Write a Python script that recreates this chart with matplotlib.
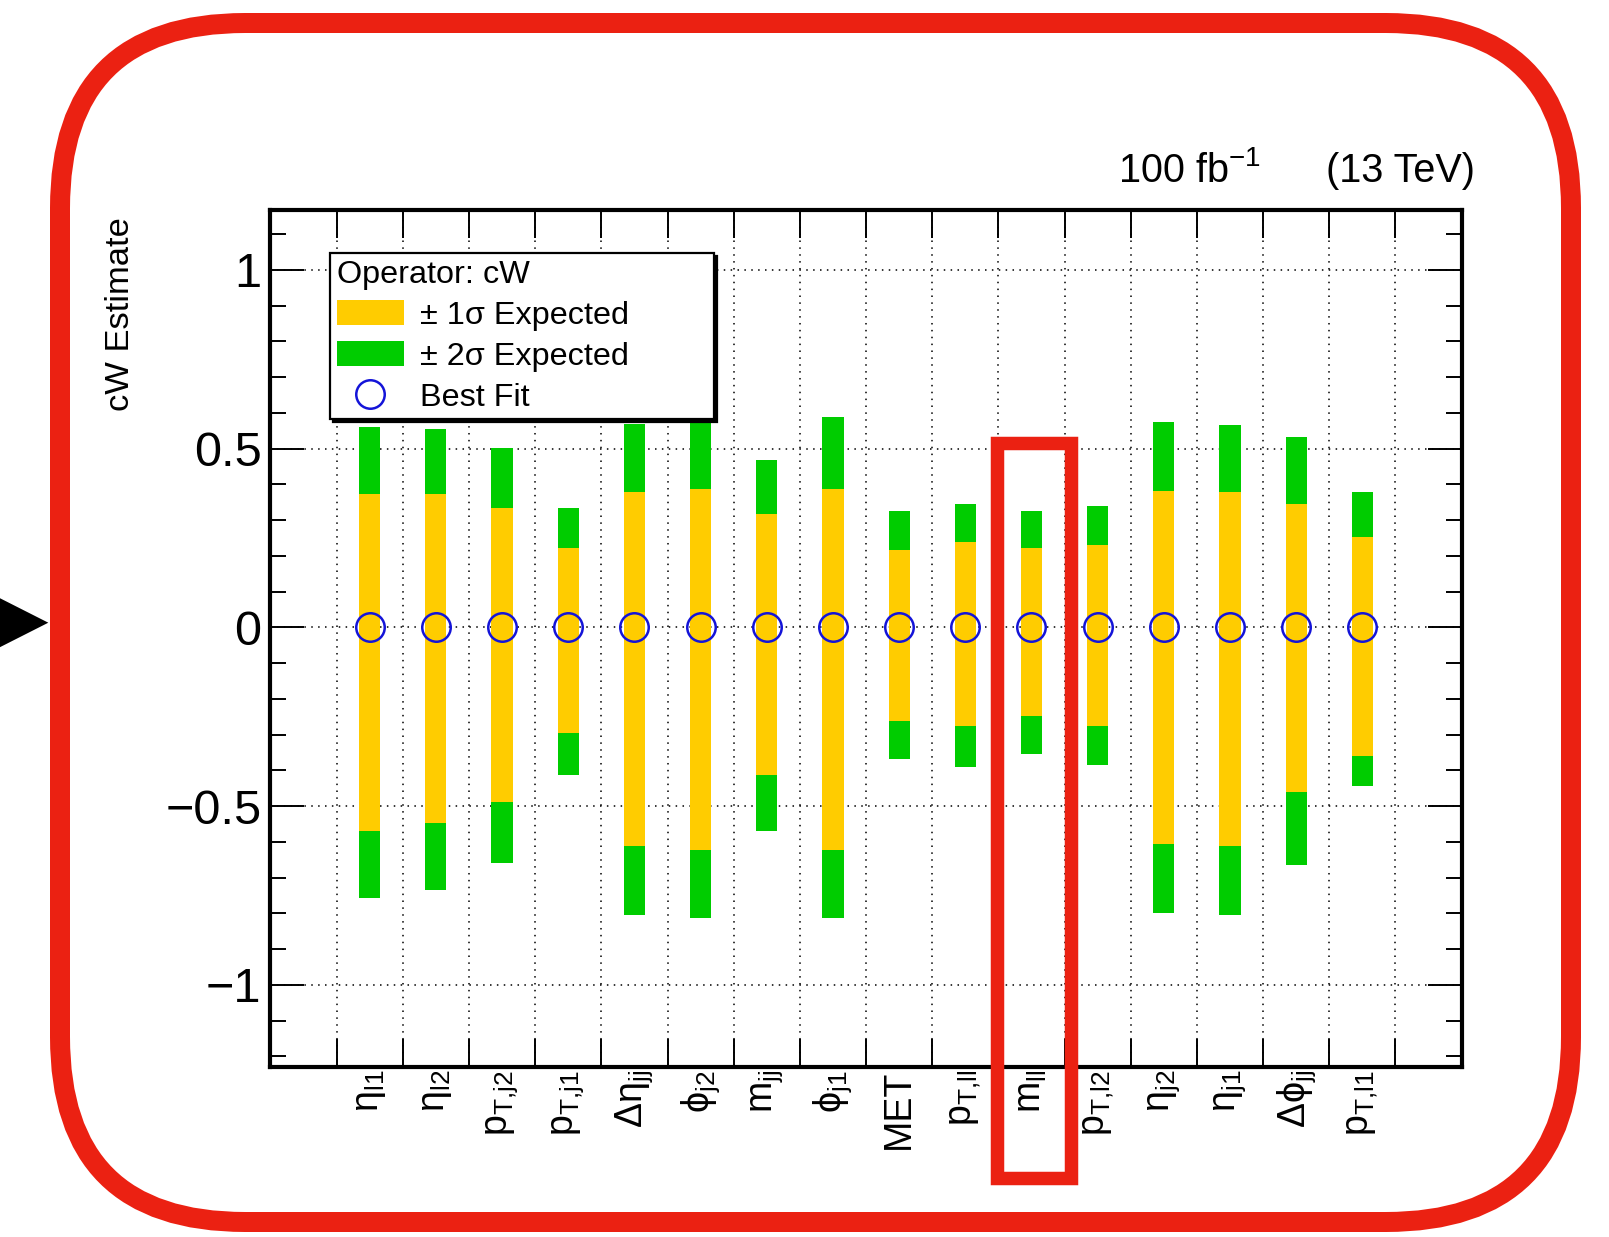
import matplotlib

matplotlib.use("Agg")

import matplotlib.pyplot as plt
import numpy as np
from matplotlib.lines import Line2D
from matplotlib.patches import FancyBboxPatch, Patch, Polygon, Rectangle
from matplotlib.ticker import FixedLocator, MultipleLocator


OBSERVABLES = [
    r"$\mathregular{\eta_{l1}}$",
    r"$\mathregular{\eta_{l2}}$",
    r"$\mathregular{p_{T{,}j2}}$",
    r"$\mathregular{p_{T{,}j1}}$",
    r"$\mathregular{\Delta\eta_{jj}}$",
    r"$\mathregular{\phi_{j2}}$",
    r"$\mathregular{m_{jj}}$",
    r"$\mathregular{\phi_{j1}}$",
    "MET",
    r"$\mathregular{p_{T{,}ll}}$",
    r"$\mathregular{m_{ll}}$",
    r"$\mathregular{p_{T{,}l2}}$",
    r"$\mathregular{\eta_{j2}}$",
    r"$\mathregular{\eta_{j1}}$",
    r"$\mathregular{\Delta\phi_{jj}}$",
    r"$\mathregular{p_{T{,}l1}}$",
]

BEST_FIT = [0.0, 0.0, 0.0, 0.0, 0.0, 0.0, 0.0, 0.0,
            0.0, 0.0, 0.0, 0.0, 0.0, 0.0, 0.0, 0.0]

SIGMA2_UP = [0.561, 0.554, 0.501, 0.334, 0.570, 0.585, 0.469, 0.588,
             0.325, 0.346, 0.325, 0.340, 0.576, 0.566, 0.534, 0.378]
SIGMA1_UP = [0.373, 0.373, 0.334, 0.222, 0.378, 0.388, 0.318, 0.388,
             0.216, 0.238, 0.221, 0.232, 0.383, 0.378, 0.346, 0.254]
SIGMA1_DOWN = [-0.568, -0.547, -0.488, -0.294, -0.612, -0.622, -0.412, -0.622,
               -0.262, -0.277, -0.247, -0.277, -0.605, -0.612, -0.460, -0.359]
SIGMA2_DOWN = [-0.756, -0.735, -0.660, -0.412, -0.804, -0.814, -0.568, -0.814,
               -0.369, -0.391, -0.353, -0.385, -0.800, -0.804, -0.665, -0.443]

LEGEND_TITLE = "Operator: cW"
LEGEND_LABELS = ["\u00b1 1\u03c3 Expected", "\u00b1 2\u03c3 Expected", "Best Fit"]

SIGMA1_COLOR = "#ffcc00"
SIGMA2_COLOR = "#00cc00"
FIT_COLOR = "#1414d8"
RED = "#eb2112"

plt.rcParams["font.family"] = ["Liberation Sans", "DejaVu Sans"]
plt.rcParams["mathtext.fontset"] = "custom"
plt.rcParams["mathtext.rm"] = "Liberation Sans"
plt.rcParams["mathtext.it"] = "Liberation Sans:italic"
plt.rcParams["mathtext.bf"] = "Liberation Sans:bold"


def draw_bands(ax):
    x = np.arange(len(OBSERVABLES)) + 1.5
    lo2 = np.array(SIGMA2_DOWN)
    hi2 = np.array(SIGMA2_UP)
    lo1 = np.array(SIGMA1_DOWN)
    hi1 = np.array(SIGMA1_UP)

    ax.bar(x, hi2 - lo2, bottom=lo2, width=0.32, color=SIGMA2_COLOR, zorder=2)
    ax.bar(x, hi1 - lo1, bottom=lo1, width=0.32, color=SIGMA1_COLOR, zorder=3)
    ax.plot(
        x,
        BEST_FIT,
        linestyle="none",
        marker="o",
        markersize=20.5,
        markerfacecolor="none",
        markeredgecolor=FIT_COLOR,
        markeredgewidth=1.8,
        zorder=4,
    )
    return x


def style_axes(ax, centers):
    ax.set_xlim(0, len(OBSERVABLES) + 2)
    ax.set_ylim(-1.23, 1.169)

    ax.xaxis.set_major_locator(FixedLocator(np.arange(1, len(OBSERVABLES) + 2)))
    ax.xaxis.set_minor_locator(FixedLocator(centers))
    ax.set_xticklabels(OBSERVABLES, minor=True, rotation=90)
    ax.yaxis.set_major_locator(MultipleLocator(0.5))
    ax.yaxis.set_minor_locator(MultipleLocator(0.1))
    ax.set_yticks([-1, -0.5, 0, 0.5, 1])
    ax.set_yticklabels(["\u22121", "\u22120.5", "0", "0.5", "1"])

    ax.tick_params(axis="both", which="both", direction="in",
                   top=True, right=True, width=1.4, colors="black")
    ax.tick_params(axis="x", which="major", length=20,
                   labelbottom=False)
    ax.tick_params(axis="x", which="minor", length=0,
                   labelsize=27, pad=2)
    ax.tick_params(axis="y", which="major", length=24.5,
                   labelsize=35, pad=6.5)
    ax.tick_params(axis="y", which="minor", length=11.5)

    for spine in ax.spines.values():
        spine.set_linewidth(3.0)

    ax.set_axisbelow(True)
    ax.grid(True, which="major", color="black",
            linestyle=(0, (1, 3.5)), linewidth=1.1)


def add_legend(ax):
    handles = [
        Patch(facecolor=SIGMA1_COLOR, edgecolor="none"),
        Patch(facecolor=SIGMA2_COLOR, edgecolor="none"),
        Line2D([], [], linestyle="none", marker="o", markersize=20.5,
               markerfacecolor="none", markeredgecolor=FIT_COLOR,
               markeredgewidth=1.8),
    ]
    leg = ax.legend(
        handles,
        LEGEND_LABELS,
        title=LEGEND_TITLE,
        loc="upper left",
        bbox_to_anchor=(0.0503, 0.5, 0.3221, 0.4488),
        mode="expand",
        borderaxespad=0,
        fontsize=23.3,
        title_fontsize=23.3,
        alignment="left",
        fancybox=False,
        framealpha=1,
        edgecolor="black",
        shadow={"color": "black", "alpha": 1},
        handlelength=2.07,
        handleheight=0.83,
        handletextpad=0.5,
        labelspacing=0.31,
        borderpad=0.2,
    )
    leg.get_frame().set_linewidth(1.6)
    leg.set_zorder(10)


def add_annotations(fig):
    # rounded outline around the whole panel
    fig.add_artist(FancyBboxPatch(
        (0.60, 0.15), 15.11, 11.99,
        boxstyle="round,pad=0,rounding_size=1.85",
        transform=fig.dpi_scale_trans,
        facecolor="none", edgecolor=RED, linewidth=14.4, zorder=20,
    ))
    # pointer at the zero line
    fig.add_artist(Polygon(
        [(-0.05, 6.413), (-0.05, 5.873), (0.483, 6.143)],
        closed=True, transform=fig.dpi_scale_trans,
        facecolor="black", edgecolor="none", zorder=20,
    ))
    # box around the m_ll column
    fig.add_artist(Rectangle(
        (9.967, 0.59), 0.74, 7.35,
        transform=fig.dpi_scale_trans, fill=False,
        edgecolor=RED, linewidth=9.7, joinstyle="miter", zorder=20,
    ))


def main():
    fig = plt.figure(figsize=(16.09, 12.37), dpi=100)
    ax = fig.add_axes([0.1681, 0.1373, 0.7403, 0.6933])

    centers = draw_bands(ax)
    style_axes(ax, centers)
    add_legend(ax)

    fig.text(0.0746, 0.8246, "cW Estimate", rotation=90,
             ha="center", va="top", fontsize=24.8)
    fig.text(0.695, 0.8529, r"100 fb$^{\mathregular{-1}}$",
             ha="left", va="baseline", fontsize=28.5)
    fig.text(0.917, 0.8529, "(13 TeV)",
             ha="right", va="baseline", fontsize=28.5)

    add_annotations(fig)

    fig.savefig("out.png", dpi=100)
    plt.close(fig)


if __name__ == "__main__":
    main()
